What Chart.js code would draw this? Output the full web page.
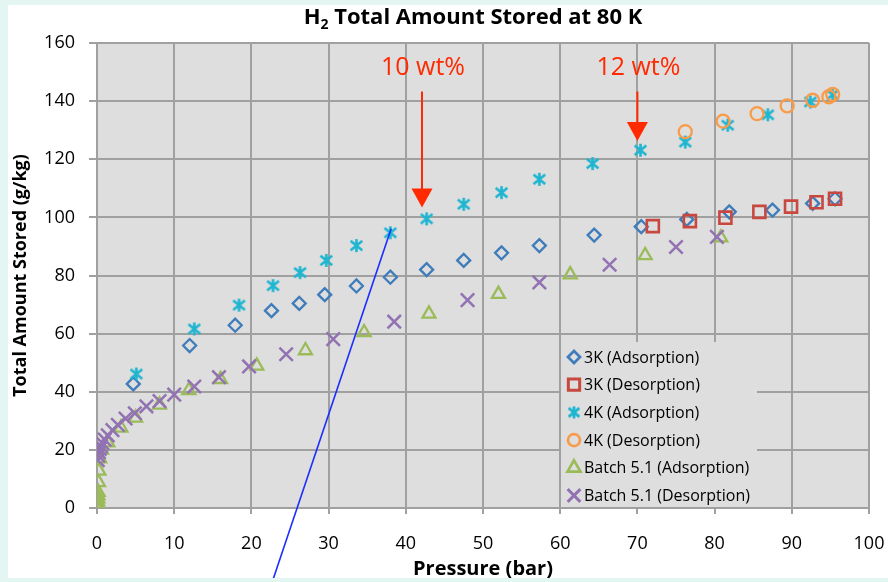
<!DOCTYPE html>
<html>
<head>
<meta charset="utf-8">
<script src="https://cdn.jsdelivr.net/npm/chart.js@4.4.1/dist/chart.umd.min.js"></script>
<style>
  html, body { margin: 0; padding: 0; }
  body { width: 888px; height: 582px; background: #e3f6f1; position: relative; overflow: hidden; }
  #wrap { position: absolute; left: 8px; top: 5px; width: 880px; height: 573px; background: #fff; }
</style>
</head>
<body>
<div id="wrap"><canvas id="chart-h2" width="880" height="573"></canvas></div>
<script>
// Pressure (bar) / amount stored (g/kg)
var ads3kP = [4.7, 12.0, 17.9, 22.6, 26.2, 29.5, 33.6, 38.0, 42.7, 47.5, 52.4, 57.3, 64.4, 70.5, 76.4, 81.9, 87.5, 92.7, 95.6];
var ads3kV = [42.7, 55.9, 62.9, 67.9, 70.4, 73.4, 76.4, 79.4, 82.0, 85.2, 87.8, 90.3, 93.9, 96.8, 99.3, 101.9, 102.5, 104.8, 106.4];

var des3kP = [72.0, 76.8, 81.4, 85.8, 89.9, 93.2, 95.6];
var des3kV = [97.0, 98.7, 99.9, 101.9, 103.7, 105.2, 106.4];

var ads4kP = [5.1, 12.6, 18.4, 22.8, 26.3, 29.7, 33.6, 38.0, 42.7, 47.5, 52.4, 57.3, 64.2, 70.4, 76.2, 81.7, 86.9, 92.4, 95.3];
var ads4kV = [46.1, 61.6, 69.8, 76.5, 81.0, 85.2, 90.3, 94.7, 99.5, 104.5, 108.5, 113.1, 118.5, 123.1, 125.9, 131.7, 135.3, 139.7, 142.2];

var des4kP = [76.2, 81.1, 85.5, 89.4, 92.7, 94.8, 95.3];
var des4kV = [129.5, 133.1, 135.7, 138.4, 140.3, 141.5, 142.3];

var adsBatchP = [0.05, 0.05, 0.05, 0.08, 0.1, 0.12, 0.15, 0.2, 0.25, 0.35, 0.6, 1.4, 3.1, 5.0, 8.1, 11.9, 16.0, 20.7, 27.0, 34.6, 43.0, 52.0, 61.3, 71.0, 80.8];
var adsBatchV = [0, 0.6, 1.3, 2.2, 3.2, 4.3, 5.5, 8.8, 12.8, 17.0, 20.0, 22.5, 27.6, 31.0, 35.5, 40.5, 44.3, 48.9, 54.2, 60.4, 66.8, 73.6, 80.3, 86.9, 93.0];

var desBatchP = [0.1, 0.15, 0.25, 0.35, 0.5, 0.7, 1.0, 1.4, 2.0, 2.7, 3.7, 4.9, 6.4, 8.1, 10.0, 12.6, 15.8, 19.7, 24.5, 30.6, 38.5, 48.0, 57.3, 66.4, 75.0, 80.3];
var desBatchV = [16.5, 18.0, 19.2, 20.3, 21.3, 22.3, 23.5, 25.0, 26.8, 28.6, 30.8, 32.6, 35.0, 36.8, 39.0, 41.8, 45.0, 48.7, 52.9, 58.1, 64.1, 71.5, 77.6, 83.7, 89.8, 93.3];

// straight blue line
var limitP = [22.5, 38.1];
var limitV = [-27, 96.1];

// wt% markers: label, pressure, top of arrow, arrow tip
var wtLabels = ['10 wt%', '12 wt%'];
var wtP = [42.1, 70.0];
var wtTop = [143.3, 143.3];
var wtTip = [103.4, 126.3];
var wtTextV = 151.6;

var xTicks = [0, 100, 10];
var yTicks = [0, 160, 20];

var FONT = "'Open Sans', 'DejaVu Sans', sans-serif";
var gridColor = '#a0a0a0';
var plotBg = '#dedede';

function toPoints(xs, ys) {
  return xs.map(function(x, i) { return { x: x, y: ys[i] }; });
}

// Excel style asterisk marker
function starMarker(size, color, lw) {
  var c = document.createElement('canvas');
  c.width = size;
  c.height = size;
  var g = c.getContext('2d');
  var m = size / 2, r = size / 2 - 1;
  g.strokeStyle = color;
  g.lineWidth = lw;
  g.beginPath();
  g.moveTo(m, m - r); g.lineTo(m, m + r);
  g.moveTo(m - r * 0.9, m - r * 0.72); g.lineTo(m + r * 0.9, m + r * 0.72);
  g.moveTo(m + r * 0.9, m - r * 0.72); g.lineTo(m - r * 0.9, m + r * 0.72);
  g.stroke();
  return c;
}

var starImg = starMarker(15, '#1db5d0', 2.6);
var starImgSmall = starMarker(14, '#1db5d0', 2.8);

var series = [
  { label: '3K (Adsorption)', xs: ads3kP, ys: ads3kV, style: 'rectRot', color: '#3f7cba', r: 6.5, w: 2.3, lr: 6 },
  { label: '3K (Desorption)', xs: des3kP, ys: des3kV, style: 'rect', color: '#c8473f', r: 8.5, w: 2.6, lr: 8 },
  { label: '4K (Adsorption)', xs: ads4kP, ys: ads4kV, style: starImg, color: '#1db5d0', r: 7, w: 2.5, legendImg: starImgSmall },
  { label: '4K (Desorption)', xs: des4kP, ys: des4kV, style: 'circle', color: '#f89c4a', r: 6.5, w: 2.3, lr: 6 },
  { label: 'Batch 5.1 (Adsorption)', xs: adsBatchP, ys: adsBatchV, style: 'triangle', color: '#9bbb59', r: 7.5, w: 2.3, lr: 7.5 },
  { label: 'Batch 5.1 (Desorption)', xs: desBatchP, ys: desBatchV, style: 'crossRot', color: '#9272b2', r: 9.5, w: 2.5, lr: 9 }
];

var datasets = series.map(function(s, i) {
  return {
    label: s.label,
    data: toPoints(s.xs, s.ys),
    pointStyle: s.style,
    pointRadius: s.r,
    pointHoverRadius: s.r,
    pointBorderWidth: s.w,
    borderColor: s.color,
    backgroundColor: 'rgba(0,0,0,0)',
    order: 10 - i
  };
});

datasets.push({
  label: 'limit',
  type: 'line',
  data: toPoints(limitP, limitV),
  showLine: true,
  pointRadius: 0,
  borderColor: '#1a2fff',
  borderWidth: 1.6,
  clip: false,
  order: 0
});

// plot area background
var plotBgPlugin = {
  id: 'plotBg',
  beforeDraw: function(chart) {
    var a = chart.chartArea, ctx = chart.ctx;
    ctx.save();
    ctx.fillStyle = plotBg;
    ctx.fillRect(a.left, a.top, a.right - a.left, a.bottom - a.top);
    ctx.restore();
  }
};

// title with subscript 2
var titlePlugin = {
  id: 'h2Title',
  afterDraw: function(chart) {
    var ctx = chart.ctx;
    var big = 'bold 22px ' + FONT, small = 'bold 14px ' + FONT;
    var rest = ' Total Amount Stored at 80 K';
    ctx.save();
    ctx.fillStyle = '#000';
    ctx.textBaseline = 'alphabetic';
    ctx.font = big;
    var wH = ctx.measureText('H').width, wRest = ctx.measureText(rest).width;
    ctx.font = small;
    var w2 = ctx.measureText('2').width;
    var x = 465 - (wH + w2 + wRest) / 2, y = 19;
    ctx.font = big;
    ctx.fillText('H', x, y);
    ctx.font = small;
    ctx.fillText('2', x + wH, y + 5);
    ctx.font = big;
    ctx.fillText(rest, x + wH + w2, y);
    ctx.restore();
  }
};

// red arrows and labels
var wtPlugin = {
  id: 'wtArrows',
  afterDatasetsDraw: function(chart) {
    var ctx = chart.ctx, xs = chart.scales.x, ys = chart.scales.y;
    ctx.save();
    ctx.strokeStyle = '#ff2a00';
    ctx.fillStyle = '#ff2a00';
    ctx.lineWidth = 2;
    ctx.font = '25px ' + FONT;
    ctx.textAlign = 'center';
    ctx.textBaseline = 'middle';
    wtLabels.forEach(function(lbl, i) {
      var px = xs.getPixelForValue(wtP[i]);
      var top = ys.getPixelForValue(wtTop[i]);
      var tip = ys.getPixelForValue(wtTip[i]);
      ctx.fillText(lbl, px + 1, ys.getPixelForValue(wtTextV));
      ctx.beginPath();
      ctx.moveTo(px, top);
      ctx.lineTo(px, tip - 18);
      ctx.stroke();
      ctx.beginPath();
      ctx.moveTo(px - 10.5, tip - 19);
      ctx.lineTo(px + 10.5, tip - 19);
      ctx.lineTo(px, tip);
      ctx.closePath();
      ctx.fill();
    });
    ctx.restore();
  }
};

// legend box inside the plot
var legendPlugin = {
  id: 'boxLegend',
  afterDatasetsDraw: function(chart) {
    var ctx = chart.ctx, a = chart.chartArea;
    var bx = a.left + 464, by = a.top + 299, bw = 196, bh = 165;
    ctx.save();
    ctx.fillStyle = plotBg;
    ctx.fillRect(bx, by, bw, bh);
    ctx.font = '16px ' + FONT;
    ctx.textBaseline = 'middle';
    series.forEach(function(s, i) {
      var mx = bx + 13, my = by + 15 + i * 27.7;
      if (s.legendImg) {
        ctx.drawImage(s.legendImg, mx - s.legendImg.width / 2, my - s.legendImg.height / 2);
      } else {
        ctx.strokeStyle = s.color;
        ctx.fillStyle = 'rgba(0,0,0,0)';
        ctx.lineWidth = s.w + 0.4;
        Chart.helpers.drawPoint(ctx, { pointStyle: s.style, radius: s.lr, borderWidth: s.w, rotation: 0 }, mx, my);
      }
      ctx.fillStyle = '#000';
      ctx.fillText(s.label, bx + 23, my + 1);
    });
    ctx.restore();
  }
};

var h2Chart = new Chart(document.getElementById('chart-h2').getContext('2d'), {
  type: 'scatter',
  data: { datasets: datasets },
  plugins: [plotBgPlugin, wtPlugin, legendPlugin, titlePlugin],
  options: {
    responsive: false,
    maintainAspectRatio: false,
    animation: false,
    events: [],
    layout: { padding: { top: 38, right: 19, left: 0, bottom: 0 } },
    plugins: {
      legend: { display: false },
      tooltip: { enabled: false },
      title: { display: false }
    },
    scales: {
      x: {
        type: 'linear',
        min: xTicks[0],
        max: xTicks[1],
        ticks: { stepSize: xTicks[2], padding: 19, color: '#000', font: { family: FONT, size: 18 } },
        grid: { color: gridColor, lineWidth: 2, tickLength: 6 },
        border: { color: gridColor, width: 2 },
        title: { display: true, text: 'Pressure (bar)', color: '#000', padding: { top: 0, bottom: -3 }, font: { family: FONT, size: 20, weight: 'bold' } },
        afterFit: function(scale) {
          scale.height = 70;
          scale.paddingLeft = 0;
          scale.paddingRight = 0;
        }
      },
      y: {
        type: 'linear',
        min: yTicks[0],
        max: yTicks[1],
        ticks: { stepSize: yTicks[2], padding: 14, color: '#000', font: { family: FONT, size: 18 } },
        grid: { color: gridColor, lineWidth: 2, tickLength: 8 },
        border: { color: gridColor, width: 2 },
        title: { display: true, text: 'Total Amount Stored (g/kg)', color: '#000', padding: 2, font: { family: FONT, size: 18, weight: 'bold' } },
        afterFit: function(scale) {
          scale.width = 89;
          scale.paddingTop = 0;
          scale.paddingBottom = 0;
        }
      }
    }
  }
});
</script>
</body>
</html>
